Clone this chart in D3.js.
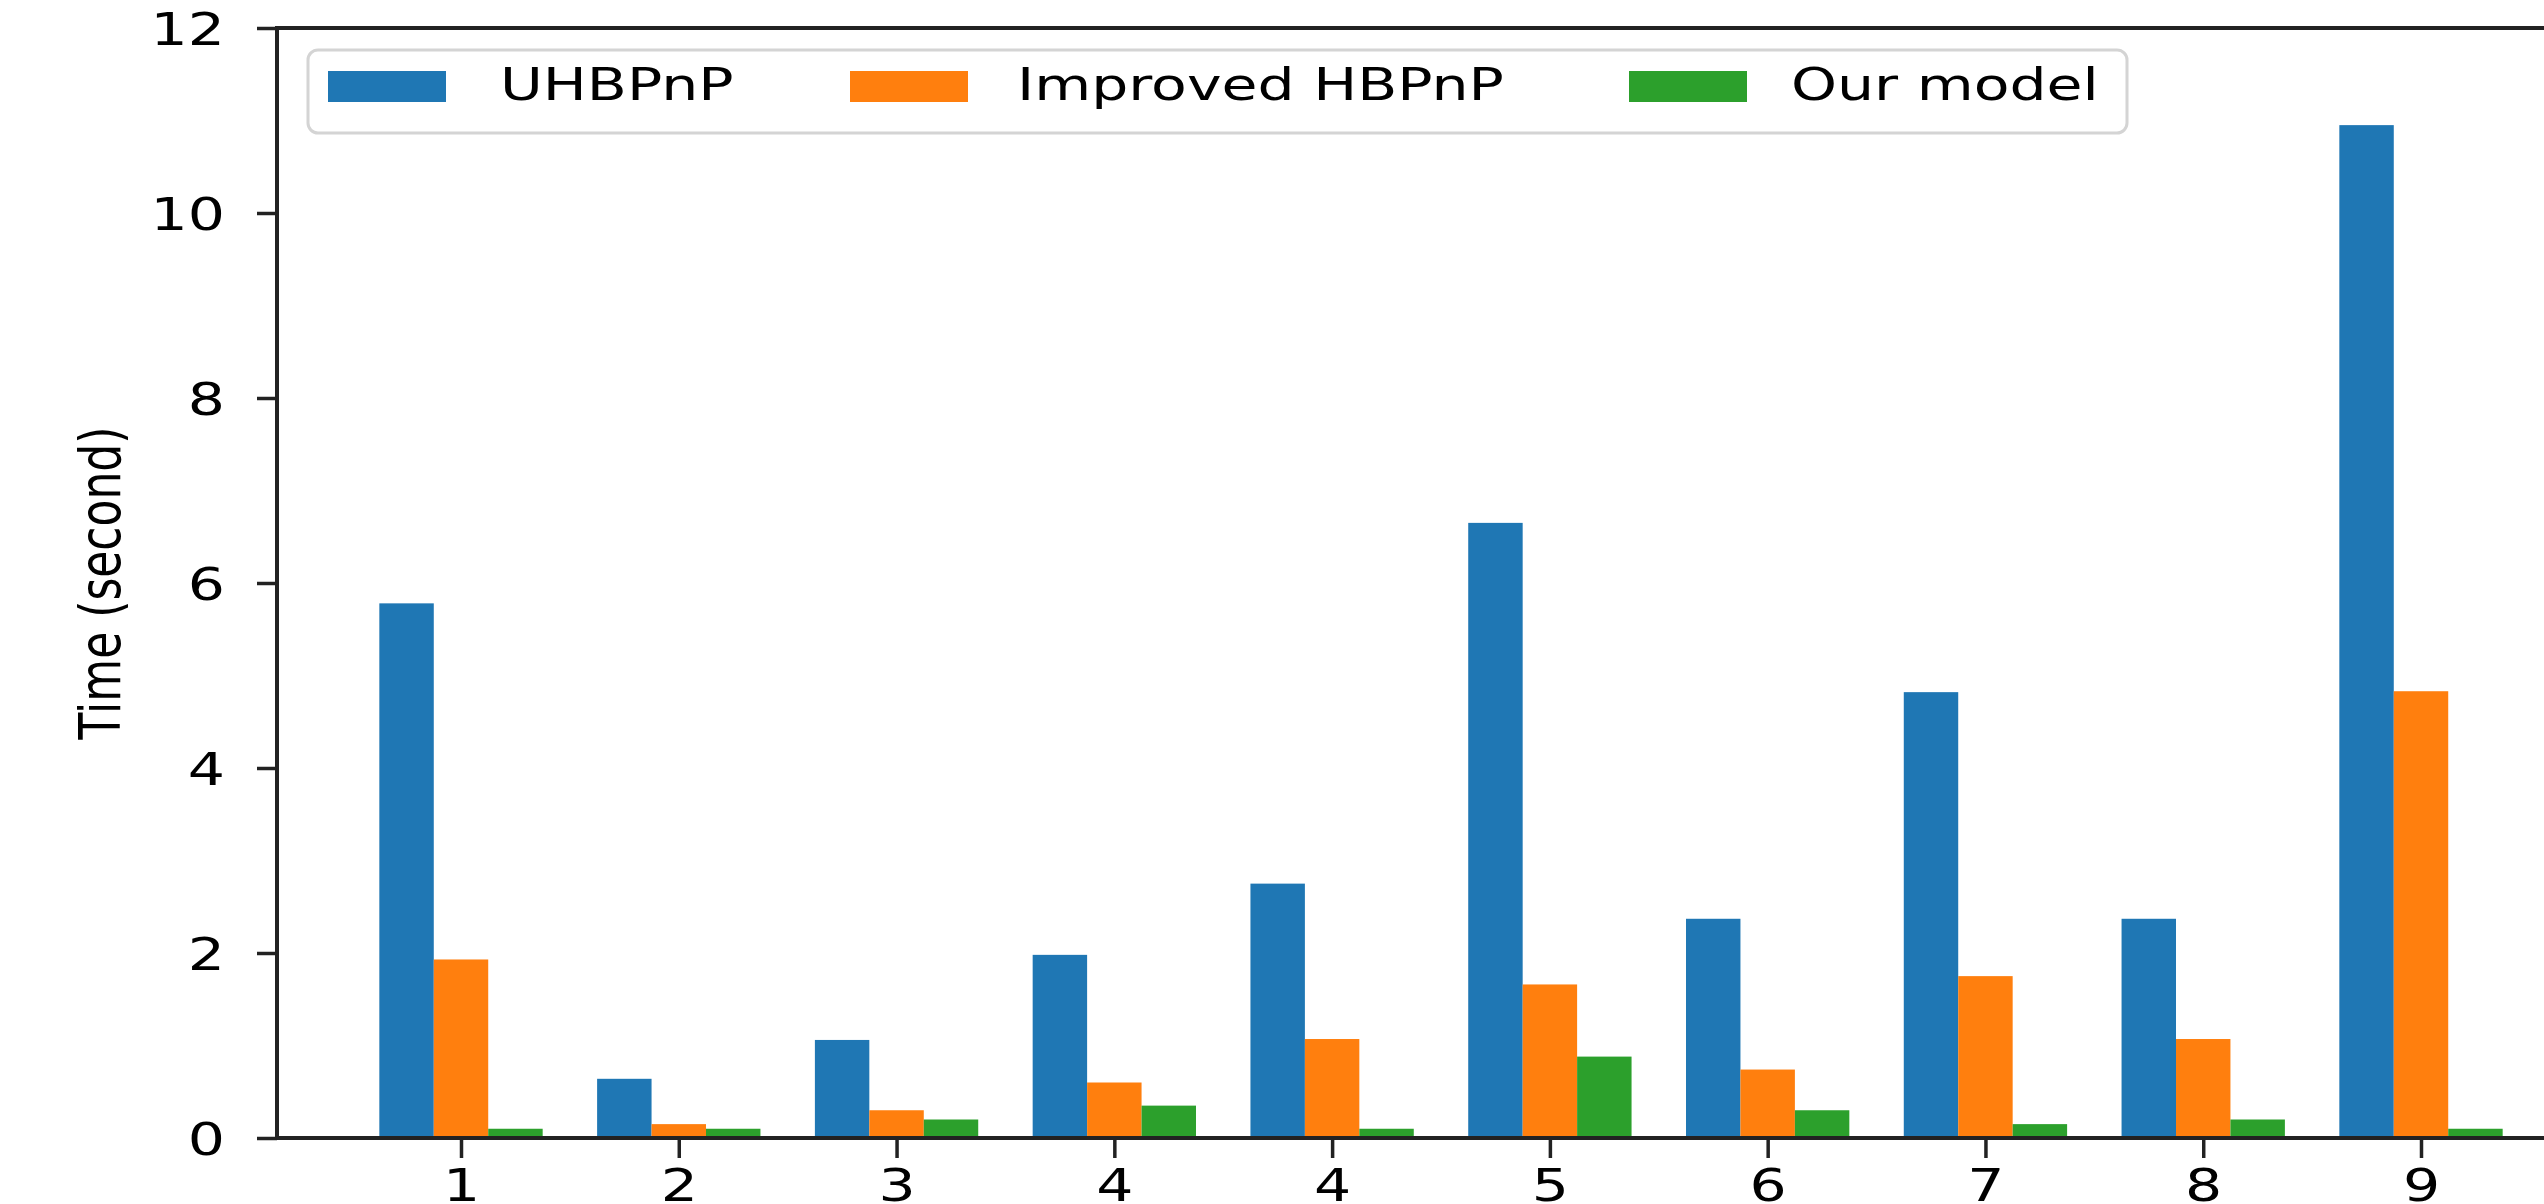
<!DOCTYPE html>
<html><head><meta charset="utf-8">
<script src="https://cdn.jsdelivr.net/npm/d3@7"></script>
<style>html,body{margin:0;padding:0;background:#fff;overflow:hidden}</style>
</head><body>
<svg id="chart" width="2544" height="1204"></svg>
<script>
// ---- data ----
const categories = ["1","2","3","4","4","5","6","7","8","9"];
const seriesNames = ["UHBPnP","Improved HBPnP","Our model"];
const uhbpnp        = [5.78,0.64,1.06,1.98,2.75,6.65,2.37,4.82,2.37,10.95];
const improvedHbpnp = [1.93,0.15,0.30,0.60,1.07,1.66,0.74,1.75,1.07,4.83];
const ourModel      = [0.10,0.10,0.20,0.35,0.10,0.88,0.30,0.15,0.20,0.10];
const yTicks = [0,2,4,6,8,10,12];
const yLabel = "Time (second)";
const colors = ["#1f77b4","#ff7f0e","#2ca02c"];

// ---- layout ----
const W = 2544, H = 1204;
const axLeft = 277, axTop = 28, axBottom = 1138;
const sx = 1.3; // horizontal stretch of the original picture
const font = "DejaVu Sans, sans-serif";
const ink = "#222";

const svg = d3.select("#chart");
svg.append("rect").attr("width", W).attr("height", H).attr("fill", "#fff");

const x = d3.scaleLinear().domain([0, 9]).range([461, 2421]);
const unit = x(1) - x(0);
const y = d3.scaleLinear().domain([0, 12]).range([axBottom, axTop]);
const barW = 0.25;

const series = [uhbpnp, improvedHbpnp, ourModel];

// bars
series.forEach((vals, s) => {
  svg.append("g").selectAll("rect").data(vals).join("rect")
    .attr("x", (d, i) => x(i + (s - 1) * barW - barW / 2))
    .attr("width", barW * unit)
    .attr("y", d => y(d))
    .attr("height", d => y(0) - y(d))
    .attr("fill", colors[s]);
});

// y axis
const gy = svg.append("g").attr("transform", `translate(${axLeft},0)`)
  .call(d3.axisLeft(y).tickValues(yTicks).tickSize(20).tickPadding(0));
gy.select(".domain").remove();
gy.selectAll(".tick line").attr("stroke", ink).attr("stroke-width", 3.5);
gy.selectAll(".tick text")
  .attr("x", null).attr("dy", null)
  .attr("transform", "translate(-52,16.5) scale(" + sx + ",1)")
  .attr("text-anchor", "end")
  .attr("fill", "#000")
  .style("font-family", font).style("font-size", "45px");

// x axis
const gx = svg.append("g").attr("transform", `translate(0,${axBottom})`)
  .call(d3.axisBottom(x).tickValues(d3.range(categories.length))
    .tickFormat(i => categories[i]).tickSize(20).tickPadding(0));
gx.select(".domain").remove();
gx.selectAll(".tick line").attr("stroke", ink).attr("stroke-width", 3.5);
gx.selectAll(".tick text")
  .attr("y", null).attr("dy", null)
  .attr("transform", "translate(0,63) scale(" + sx + ",1)")
  .attr("text-anchor", "middle")
  .attr("fill", "#000")
  .style("font-family", font).style("font-size", "45px");

// spines
svg.append("line").attr("x1", axLeft).attr("x2", axLeft).attr("y1", axTop - 2).attr("y2", axBottom + 2)
  .attr("stroke", ink).attr("stroke-width", 4);
svg.append("line").attr("x1", axLeft - 2).attr("x2", W).attr("y1", axBottom).attr("y2", axBottom)
  .attr("stroke", ink).attr("stroke-width", 4);
svg.append("line").attr("x1", axLeft - 2).attr("x2", W).attr("y1", axTop).attr("y2", axTop)
  .attr("stroke", ink).attr("stroke-width", 4);

// y label
svg.append("text")
  .attr("transform", `translate(120,583) scale(${sx},1) rotate(-90)`)
  .attr("text-anchor", "middle")
  .attr("fill", "#000")
  .style("font-family", font).style("font-size", "44px")
  .text(yLabel);

// legend
const lg = svg.append("g");
lg.append("rect").attr("x", 308).attr("y", 50).attr("width", 1819).attr("height", 83)
  .attr("rx", 10).attr("fill", "#fff").attr("stroke", "#d4d4d4").attr("stroke-width", 3);
const patchX = [328, 850, 1629];
const textX = [500, 1017, 1791];
seriesNames.forEach((name, s) => {
  lg.append("rect").attr("x", patchX[s]).attr("y", 71).attr("width", 118).attr("height", 31)
    .attr("fill", colors[s]);
  lg.append("text")
    .attr("transform", `translate(${textX[s]},100) scale(${sx},1)`)
    .attr("fill", "#000")
    .style("font-family", font).style("font-size", "45px")
    .text(name);
});
</script>
</body></html>
